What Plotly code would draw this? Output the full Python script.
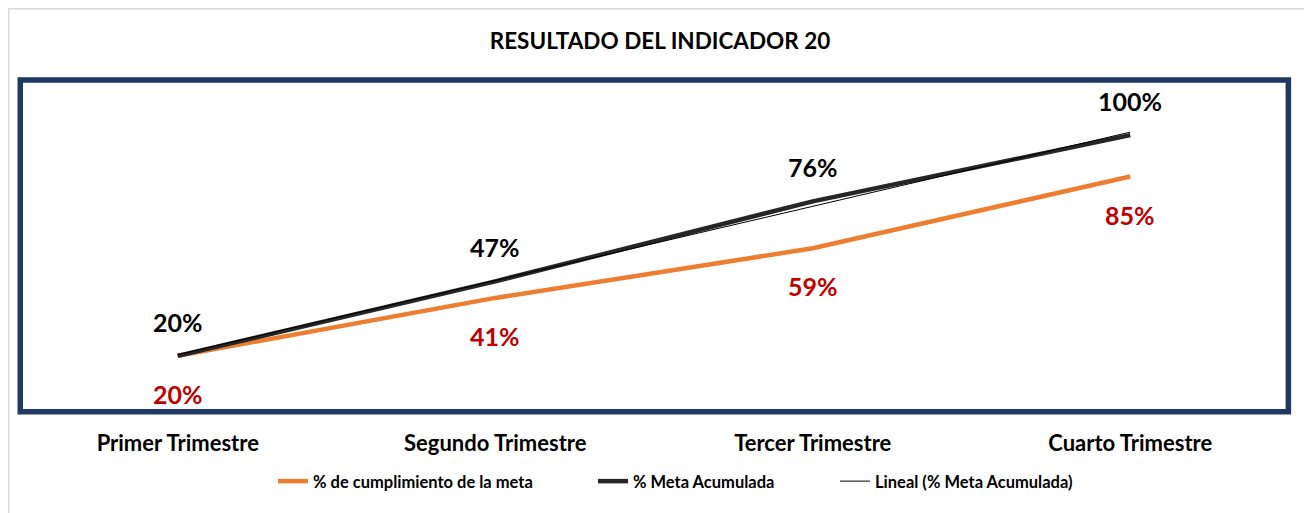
import numpy as np
import plotly.graph_objects as go

categories = ["Primer Trimestre", "Segundo Trimestre", "Tercer Trimestre", "Cuarto Trimestre"]
cumplimiento = [0.20, 0.41, 0.59, 0.85]
meta_acumulada = [0.20, 0.47, 0.76, 1.00]
cumplimiento_labels = ["20%", "41%", "59%", "85%"]
meta_labels = ["20%", "47%", "76%", "100%"]

# Excel-style linear trendline of "% Meta Acumulada"
xi = np.arange(1, len(meta_acumulada) + 1)
slope, intercept = np.polyfit(xi, meta_acumulada, 1)
trend = list(slope * xi + intercept)

FONT = "Lato"
ORANGE = "#ED7D31"
DARK = "#262626"
RED = "#C00000"
NAVY = "#203864"

# page body has an 8px margin, figure sized to fit 1312x513 window
W, H = 1304, 505
L, T = 11, 72
PW, PH = 1270, 331.5

fig = go.Figure()
fig.add_trace(go.Scatter(x=categories, y=cumplimiento, mode="lines",
                         line=dict(color=ORANGE, width=4.5), legendwidth=275,
                         name="% de cumplimiento de la meta"))
fig.add_trace(go.Scatter(x=categories, y=meta_acumulada, mode="lines",
                         line=dict(color=DARK, width=4.5), legendwidth=197,
                         name="% Meta Acumulada"))
fig.add_trace(go.Scatter(x=categories, y=trend, mode="lines",
                         line=dict(color="#000000", width=1), legendwidth=205,
                         name="Lineal (% Meta Acumulada)"))

annotations = []
for c, v, t in zip(categories, meta_acumulada, meta_labels):
    annotations.append(dict(x=c, y=v, text=t, showarrow=False, yshift=34,
                            font=dict(family=FONT, size=25, color="#000000", weight="bold")))
for c, v, t in zip(categories, cumplimiento, cumplimiento_labels):
    annotations.append(dict(x=c, y=v, text=t, showarrow=False, yshift=-38,
                            font=dict(family=FONT, size=25, color=RED, weight="bold")))

def px_x(p):
    return (p - L) / PW

def px_y(p):
    return (T + PH - p) / PH

shapes = [
    # outer light-gray chart border
    dict(type="rect", xref="paper", yref="paper", x0=px_x(0.75), x1=px_x(1298), y0=px_y(H + 20), y1=px_y(0.75),
         line=dict(color="#D9D9D9", width=1.5), layer="below"),
    # navy plot-area frame
    dict(type="rect", xref="paper", yref="paper", x0=0.001, x1=0.9995, y0=-0.002, y1=1.0,
         line=dict(color=NAVY, width=5.5), layer="above"),
]

fig.update_layout(
    width=W, height=H,
    margin=dict(l=L, r=W - L - PW, t=T, b=H - T - PH, autoexpand=False),
    paper_bgcolor="white", plot_bgcolor="white",
    title=dict(text="<b>RESULTADO DEL INDICADOR 20</b>", x=0.5, xanchor="center",
               y=1 - 33 / H, yanchor="middle",
               font=dict(family=FONT, size=22.5, color="#000000")),
    xaxis=dict(range=[-0.5, 3.5], showgrid=False, zeroline=False, showline=False,
               ticks="", tickfont=dict(family=FONT, size=22, color="#000000", weight="bold"),
               ticklabelstandoff=17),
    yaxis=dict(range=[0, 1.2], showgrid=False, zeroline=False, showline=False,
               showticklabels=False, ticks=""),
    showlegend=True,
    legend=dict(orientation="h", x=px_x(265), xanchor="left", y=px_y(474), yanchor="middle",
                font=dict(family=FONT, size=16.5, color="#000000", weight="bold"),
                itemwidth=30, tracegroupgap=0, bgcolor="rgba(0,0,0,0)"),
    annotations=annotations,
    shapes=shapes,
)

fig.write_html("out.html")
